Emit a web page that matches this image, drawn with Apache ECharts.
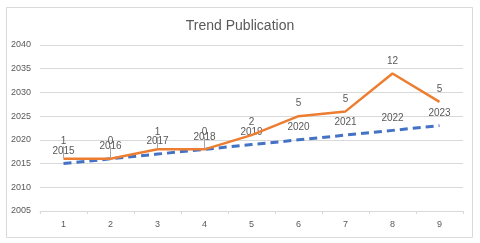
<!DOCTYPE html>
<html><head><meta charset="utf-8">
<script src="https://cdn.jsdelivr.net/npm/echarts@6/dist/echarts.min.js"></script>
<style>html,body{margin:0;padding:0;background:#fff}#c{width:480px;height:243px}</style>
</head><body><div id="c"></div>
<script>
const categories = ['1','2','3','4','5','6','7','8','9'];
const years = [2015, 2016, 2017, 2018, 2019, 2020, 2021, 2022, 2023];
const publications = [1, 0, 1, 0, 2, 5, 5, 12, 5];
const yMin = 2005, yMax = 2040, yStep = 5;

const chart = echarts.init(document.getElementById('c'), null, {renderer: 'canvas'});
const txt = '#595959';
const font = 'Liberation Sans, Arial, sans-serif';
const pubData = publications.map((v, i) => i < 4
  ? {value: v, labelLine: {show: true, lineStyle: {color: '#a6a6a6', width: 1}}}
  : {value: v});
chart.setOption({
  animation: false,
  graphic: [{
    type: 'rect', left: 4, top: 5, shape: {width: 466, height: 230},
    style: {fill: 'none', stroke: '#d9d9d9', lineWidth: 1}, silent: true
  }],
  title: {
    text: 'Trend Publication', left: 'center', top: 14,
    textStyle: {fontFamily: font, fontSize: 14, fontWeight: 'normal', color: txt}
  },
  grid: {left: 40, right: 17, top: 45, bottom: 32},
  xAxis: {
    type: 'category', data: categories, boundaryGap: true,
    axisLine: {lineStyle: {color: '#d9d9d9'}},
    axisTick: {show: true, length: 3, lineStyle: {color: '#d9d9d9'}},
    axisLabel: {color: txt, fontFamily: font, fontSize: 9, margin: 9}
  },
  yAxis: {
    type: 'value', min: yMin, max: yMax, interval: yStep,
    axisLine: {show: false}, axisTick: {show: false},
    axisLabel: {color: txt, fontFamily: font, fontSize: 9, margin: 9, formatter: v => String(v)},
    splitLine: {lineStyle: {color: '#d9d9d9', width: 1}}
  },
  series: [{
    name: 'Year', type: 'line', stack: 'total', data: years,
    showSymbol: true, symbol: 'circle', symbolSize: 1, z: 2,
    lineStyle: {color: '#4472C4', width: 3, type: [8, 5]},
    itemStyle: {color: 'rgba(0,0,0,0)', borderWidth: 0},
    label: {show: true, position: 'top', distance: 7, color: txt, fontFamily: font, fontSize: 10}
  }, {
    name: 'Publication', type: 'line', stack: 'total', data: pubData,
    showSymbol: true, symbol: 'circle', symbolSize: 1, z: 3,
    lineStyle: {color: '#ED7D31', width: 2.5},
    itemStyle: {color: 'rgba(0,0,0,0)', borderWidth: 0},
    label: {show: true, position: 'top', distance: 7, color: txt, fontFamily: font, fontSize: 10},
    labelLayout: function (p) { return p.dataIndex < 4 ? {dy: -5} : {}; }
  }]
});
</script></body></html>
